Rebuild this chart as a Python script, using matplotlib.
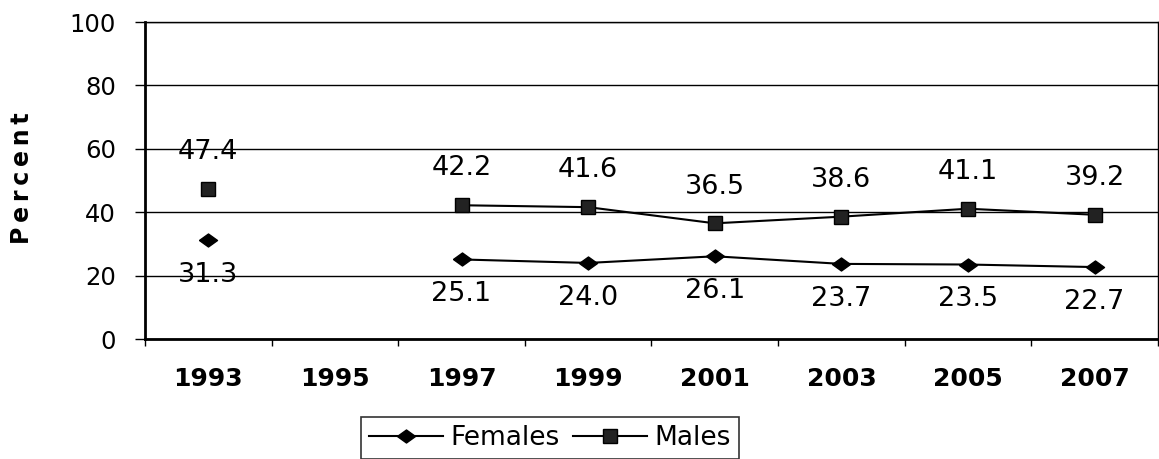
import numpy as np
import matplotlib
matplotlib.use('Agg')
import matplotlib.pyplot as plt
from matplotlib.ticker import FixedLocator

# the scan has wide, slightly stretched glyphs; DejaVu Sans is closer than Arial
plt.rcParams['font.family'] = ['DejaVu Sans']

# Chart data
years = ['1993', '1995', '1997', '1999', '2001', '2003', '2005', '2007']
females = [31.3, np.nan, 25.1, 24.0, 26.1, 23.7, 23.5, 22.7]
males = [47.4, np.nan, 42.2, 41.6, 36.5, 38.6, 41.1, 39.2]
y_ticks = [0, 20, 40, 60, 80, 100]

fig = plt.figure(figsize=(11.59, 4.59), dpi=100)
ax = fig.add_axes([0.1251, 0.2614, 0.8740, 0.6906])

x = np.arange(len(years))

# flattened diamond, like the original spreadsheet marker
diamond = [(-1, 0), (0, 0.72), (1, 0), (0, -0.72), (-1, 0)]

ax.plot(x, females, color='black', lw=1.5, marker=diamond, markersize=13,
        markerfacecolor='black', markeredgecolor='black', label='Females')
ax.plot(x, males, color='black', lw=1.5, marker='s', markersize=9.5,
        markerfacecolor='#222222', markeredgecolor='black', label='Males')

# data labels: males above, females below
for xi, v in zip(x, males):
    if not np.isnan(v):
        ax.annotate(f'{v:.1f}', (xi, v), xytext=(0, 26.5), textcoords='offset points',
                    ha='center', va='center', fontsize=19.5)
for xi, v in zip(x, females):
    if not np.isnan(v):
        ax.annotate(f'{v:.1f}', (xi, v), xytext=(0, -25), textcoords='offset points',
                    ha='center', va='center', fontsize=19.5)

ax.set_xlim(-0.5, len(years) - 0.5)
ax.set_ylim(0, 100)

ax.set_yticks(y_ticks)
ax.set_yticklabels([str(t) for t in y_ticks], fontsize=17.5)
ax.tick_params(axis='y', length=7, width=1, pad=14, direction='out')
ax.yaxis.grid(True, color='black', lw=1)
ax.set_axisbelow(True)

ax.set_xticks(x)
ax.set_xticklabels(years, fontsize=18, fontweight='bold')
ax.xaxis.set_minor_locator(FixedLocator(np.arange(-0.5, len(years), 1)))
ax.tick_params(axis='x', which='major', length=0, pad=20)
ax.tick_params(axis='x', which='minor', length=5, width=1, direction='out')

for side in ['left', 'bottom']:
    ax.spines[side].set_linewidth(2)
ax.spines['top'].set_linewidth(1)
ax.spines['right'].set_linewidth(1)

fig.text(22 / 1159, 1 - 178 / 459, '\u2009'.join('Percent'), rotation=90,
         ha='center', va='center', fontsize=17, fontweight='bold')

leg = fig.legend(loc='upper center', bbox_to_anchor=(550 / 1159, 1 - 417 / 459),
                 ncol=2, fontsize=19, frameon=True, fancybox=False, edgecolor='black',
                 handlelength=2.8, handletextpad=0.3, columnspacing=0.5,
                 borderpad=0.3, borderaxespad=0)
leg.get_frame().set_linewidth(1.2)

fig.savefig('out.png', dpi=100)
